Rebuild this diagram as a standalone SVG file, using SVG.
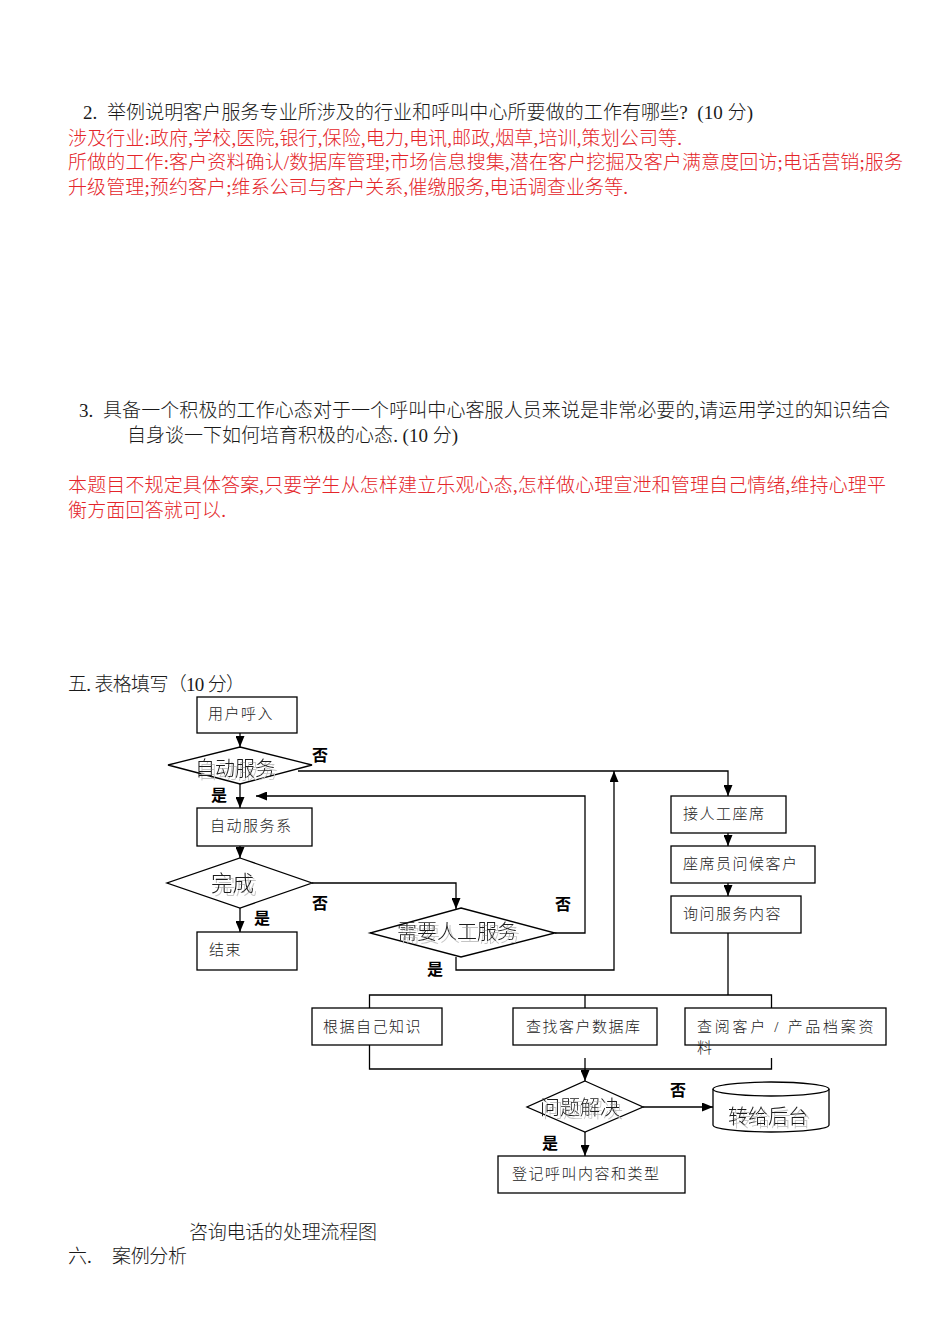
<svg xmlns="http://www.w3.org/2000/svg" width="950" height="1344" viewBox="0 0 950 1344">
<style>
.q{font-family:"Liberation Serif","Noto Sans CJK SC",serif;font-size:19px;font-weight:300;fill:#1a1a1a}
.r{font-family:"Liberation Serif","Noto Sans CJK SC",serif;font-size:19px;font-weight:300;fill:#e4252a}
.box{fill:#fff;stroke:#000;stroke-width:1.3}
.ln{fill:none;stroke:#000;stroke-width:1.3}
.arr{marker-end:url(#ah)}
.bt{font-family:"Liberation Serif","Noto Sans CJK SC",sans-serif;font-size:15px;font-weight:300;letter-spacing:1.5px;fill:#222}
.dt{font-family:"Liberation Serif","Noto Sans CJK SC",sans-serif;font-size:20px;font-weight:300;fill:#1a1a1a;filter:url(#sh)}
.yn{font-family:"Noto Sans CJK SC",sans-serif;font-size:16px;font-weight:bold;fill:#000}
</style>
<defs>
<marker id="ah" markerUnits="userSpaceOnUse" markerWidth="11" markerHeight="9" refX="11" refY="4.5" orient="auto">
<path d="M0,0 L11,4.5 L0,9 z" fill="#000"/>
</marker>
<filter id="sh" x="-10%" y="-30%" width="130%" height="170%">
<feDropShadow dx="3" dy="3" stdDeviation="0.4" flood-color="#c4c4c4" flood-opacity="1"/>
</filter>
</defs>
<rect width="950" height="1344" fill="#fff"/>

<g id="text-q2">
<text class="q" x="83" y="118.5" textLength="670" xml:space="preserve">2.  举例说明客户服务专业所涉及的行业和呼叫中心所要做的工作有哪些?  (10 分)</text>
<text class="r" x="68" y="145" textLength="614">涉及行业:政府,学校,医院,银行,保险,电力,电讯,邮政,烟草,培训,策划公司等.</text>
<text class="r" x="68" y="168.5" textLength="835">所做的工作:客户资料确认/数据库管理;市场信息搜集,潜在客户挖掘及客户满意度回访;电话营销;服务</text>
<text class="r" x="68" y="193.5" textLength="560">升级管理;预约客户;维系公司与客户关系,催缴服务,电话调查业务等.</text>
</g>

<g id="text-q3">
<text class="q" x="79" y="417" textLength="811" xml:space="preserve">3.  具备一个积极的工作心态对于一个呼叫中心客服人员来说是非常必要的,请运用学过的知识结合</text>
<text class="q" x="127" y="442" textLength="331">自身谈一下如何培育积极的心态. (10 分)</text>
<text class="r" x="68" y="492" textLength="818">本题目不规定具体答案,只要学生从怎样建立乐观心态,怎样做心理宣泄和管理自己情绪,维持心理平</text>
<text class="r" x="68" y="517" textLength="158">衡方面回答就可以.</text>
</g>

<g id="text-section5">
<text class="q" x="68" y="691" textLength="177">五. 表格填写（10 分）</text>
</g>

<g id="connectors">
<path class="ln arr" d="M240,733 V747"/>
<path class="ln arr" d="M298,771 H728 V796"/>
<path class="ln arr" d="M240,784 V808"/>
<path class="ln arr" d="M555,933 H585 V796 H256"/>
<path class="ln arr" d="M240,846 V858"/>
<path class="ln arr" d="M312,883 H456 V909"/>
<path class="ln arr" d="M240,908 V932"/>
<path class="ln arr" d="M456,957 V970 H614 V771"/>
<path class="ln arr" d="M728,833 V846"/>
<path class="ln arr" d="M728,883 V896"/>
<path class="ln" d="M728,933 V995"/>
<path class="ln" d="M369.5,1008 V995 H771.5 V1008"/>
<path class="ln" d="M585,995 V1008"/>
<path class="ln" d="M369.5,1045 V1069 H771.5 V1058"/>
<path class="ln arr" d="M585,1058 V1081"/>
<path class="ln arr" d="M643,1107 H713"/>
<path class="ln arr" d="M585,1132 V1156"/>
</g>

<g id="labels">
<text class="yn" x="312" y="761">否</text>
<text class="yn" x="211" y="801">是</text>
<text class="yn" x="312" y="909">否</text>
<text class="yn" x="254" y="924">是</text>
<text class="yn" x="555" y="910">否</text>
<text class="yn" x="427" y="975">是</text>
<text class="yn" x="670" y="1096">否</text>
<text class="yn" x="542" y="1149">是</text>
</g>

<g id="n-start">
<rect class="box" x="197" y="697" width="100" height="36"/>
<text class="bt" x="208" y="719">用户呼入</text>
</g>
<g id="d-auto">
<polygon class="box" points="240,747 312,765 240,784 168,765"/>
<text class="dt" x="195" y="776">自动服务</text>
</g>
<g id="n-autosys">
<rect class="box" x="197" y="808" width="115" height="38"/>
<text class="bt" x="210" y="831">自动服务系</text>
</g>
<g id="d-done">
<polygon class="box" points="240,858 312,883 240,908 167,883"/>
<text class="dt" x="211" y="891" style="font-size:21.5px">完成</text>
</g>
<g id="n-end">
<rect class="box" x="197" y="932" width="100" height="38"/>
<text class="bt" x="209" y="955">结束</text>
</g>
<g id="d-need">
<polygon class="box" points="461,908 555,933 461,957 370,933"/>
<text class="dt" x="397" y="939">需要人工服务</text>
</g>
<g id="n-agent">
<rect class="box" x="671" y="796" width="115" height="37"/>
<text class="bt" x="683" y="819">接人工座席</text>
</g>
<g id="n-greet">
<rect class="box" x="671" y="846" width="144" height="37"/>
<text class="bt" x="683" y="869">座席员问候客户</text>
</g>
<g id="n-ask">
<rect class="box" x="671" y="896" width="130" height="37"/>
<text class="bt" x="683" y="919">询问服务内容</text>
</g>
<g id="n-know">
<rect class="box" x="312" y="1008" width="130" height="37"/>
<text class="bt" x="323" y="1032">根据自己知识</text>
</g>
<g id="n-db">
<rect class="box" x="513" y="1008" width="144" height="37"/>
<text class="bt" x="526" y="1032">查找客户数据库</text>
</g>
<g id="n-archive">
<rect class="box" x="685" y="1008" width="201" height="37"/>
<text class="bt" x="697" y="1032" textLength="178">查阅客户 / 产品档案资</text>
<text class="bt" x="697" y="1053">料</text>
</g>
<g id="d-solved">
<polygon class="box" points="585,1081 643,1107 585,1132 527,1107"/>
<text class="dt" x="540" y="1115">问题解决</text>
</g>
<g id="n-backend">
<path class="box" d="M713,1089 A58,7 0 0,1 829,1089 V1125 A58,7 0 0,1 713,1125 Z"/>
<path class="ln" d="M713,1089 A58,7 0 0,0 829,1089"/>
<text class="dt" x="728" y="1124">转给后台</text>
</g>
<g id="n-log">
<rect class="box" x="498" y="1156" width="187" height="37"/>
<text class="bt" x="512" y="1179">登记呼叫内容和类型</text>
</g>

<g id="text-bottom">
<text class="q" x="189" y="1239" textLength="188">咨询电话的处理流程图</text>
<text class="q" x="68" y="1263">六.</text>
<text class="q" x="112" y="1263" textLength="75">案例分析</text>
</g>
</svg>
